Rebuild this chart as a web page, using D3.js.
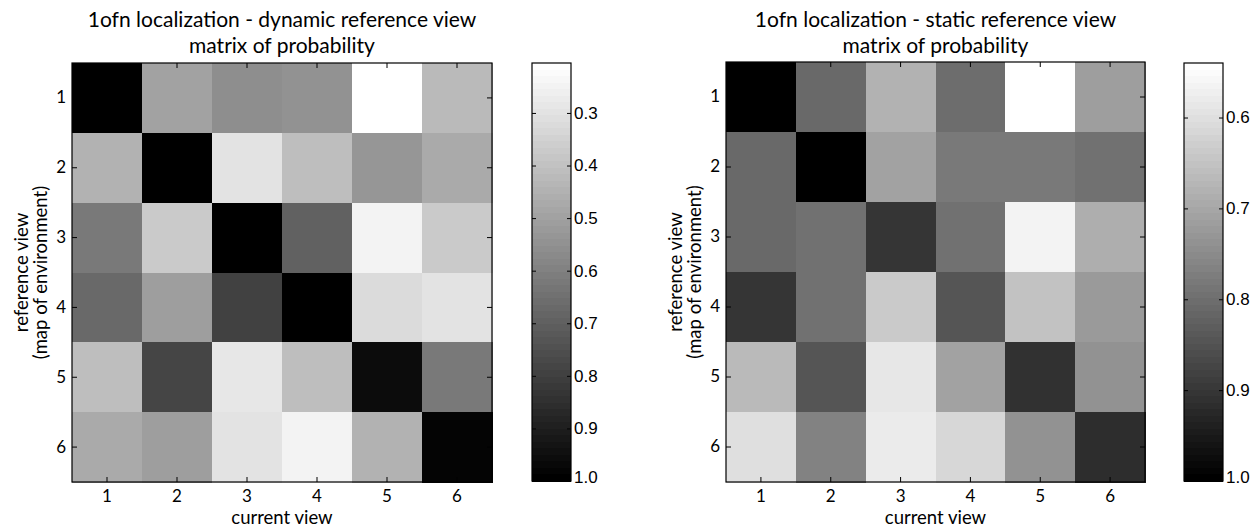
<!DOCTYPE html>
<html><head><meta charset="utf-8">
<script src="https://cdn.jsdelivr.net/npm/d3@7"></script>
<style>body{margin:0;background:#fff} svg{display:block}</style>
</head><body>
<svg id="chart" width="1256" height="529"></svg>
<script>
// ---- data ----
const rowLabels = ["1","2","3","4","5","6"];
const colLabels = ["1","2","3","4","5","6"];

const dynamicValues = [
  [1.000, 0.492, 0.554, 0.542, 0.205, 0.417],
  [0.442, 1.000, 0.302, 0.411, 0.529, 0.473],
  [0.626, 0.370, 1.000, 0.701, 0.252, 0.370],
  [0.669, 0.504, 0.800, 1.000, 0.323, 0.292],
  [0.404, 0.788, 0.283, 0.414, 0.959, 0.617],
  [0.467, 0.511, 0.302, 0.252, 0.448, 0.984]
];
const staticValues = [
  [1.000, 0.811, 0.679, 0.803, 0.540, 0.717],
  [0.811, 1.000, 0.711, 0.780, 0.780, 0.794],
  [0.812, 0.794, 0.904, 0.794, 0.563, 0.688],
  [0.904, 0.794, 0.634, 0.847, 0.654, 0.726],
  [0.663, 0.847, 0.587, 0.711, 0.910, 0.740],
  [0.603, 0.769, 0.578, 0.616, 0.740, 0.915]
];
const dynamicRange = [0.205, 1.0];
const staticRange = [0.54, 1.0];
const dynamicTicks = [0.3, 0.4, 0.5, 0.6, 0.7, 0.8, 0.9, 1.0];
const staticTicks = [0.6, 0.7, 0.8, 0.9, 1.0];
const dynamicTitle = ["1ofn localization - dynamic reference view", "matrix of probability"];
const staticTitle = ["1ofn localization - static reference view", "matrix of probability"];
const xLabel = "current view";
const yLabel = ["reference view", "(map of environment)"];

// ---- drawing ----
const svg = d3.select("#chart");
const NLEV = 64;
const grays = d3.range(NLEV).map(i => {
  const g = Math.round(255 * (NLEV - 1 - i) / (NLEV - 1));
  return d3.rgb(g, g, g).formatHex();
});
const titleFont = "Lato, 'Open Sans', sans-serif";
const numFont = "'Liberation Sans', Arial, sans-serif";

function panel(cfg) {
  const g = svg.append("g");
  const x = d3.scaleBand().domain(colLabels).range([cfg.hx0, cfg.hx1]).padding(0);
  const y = d3.scaleBand().domain(rowLabels).range([cfg.hy0, cfg.hy1]).padding(0);
  const color = d3.scaleQuantize().domain(cfg.range).range(grays);

  const cells = [];
  cfg.values.forEach((row, r) => row.forEach((v, c) => cells.push({r: rowLabels[r], c: colLabels[c], v})));
  g.append("g").selectAll("rect").data(cells).join("rect")
    .attr("x", d => x(d.c)).attr("y", d => y(d.r))
    .attr("width", x.bandwidth() + 0.5).attr("height", y.bandwidth() + 0.5)
    .attr("fill", d => color(d.v)).attr("shape-rendering", "crispEdges");

  const tick = 5;
  const axB = g.append("g").attr("transform", `translate(0,${cfg.hy1})`)
    .call(d3.axisBottom(x).tickSizeInner(-tick).tickSizeOuter(0).tickPadding(8));
  const axT = g.append("g").attr("transform", `translate(0,${cfg.hy0})`)
    .call(d3.axisTop(x).tickSizeInner(-tick).tickSizeOuter(0).tickFormat(""));
  const axL = g.append("g").attr("transform", `translate(${cfg.hx0},0)`)
    .call(d3.axisLeft(y).tickSizeInner(-tick).tickSizeOuter(0).tickPadding(6));
  const axR = g.append("g").attr("transform", `translate(${cfg.hx1},0)`)
    .call(d3.axisRight(y).tickSizeInner(-tick).tickSizeOuter(0).tickFormat(""));
  [axB, axT, axL, axR].forEach(a => {
    a.select(".domain").remove();
    a.selectAll("line").attr("stroke", "#000");
    a.selectAll("text").attr("font-family", titleFont).attr("font-size", 17).attr("fill", "#000");
  });
  g.append("rect").attr("x", cfg.hx0).attr("y", cfg.hy0)
    .attr("width", cfg.hx1 - cfg.hx0).attr("height", cfg.hy1 - cfg.hy0)
    .attr("fill", "none").attr("stroke", "#000").attr("stroke-width", 1.2);

  // titles
  const cx = (cfg.hx0 + cfg.hx1) / 2;
  g.append("text").attr("x", cx).attr("y", 27).attr("text-anchor", "middle")
    .attr("font-family", titleFont).attr("font-size", 21).attr("fill", "#000").text(cfg.title[0]);
  g.append("text").attr("x", cx).attr("y", 53).attr("text-anchor", "middle")
    .attr("font-family", titleFont).attr("font-size", 21).attr("fill", "#000").text(cfg.title[1]);

  // x label
  g.append("text").attr("x", cx).attr("y", 524).attr("text-anchor", "middle")
    .attr("font-family", titleFont).attr("font-size", 18.5).attr("fill", "#000").text(xLabel);
  // y label
  const cy = (cfg.hy0 + cfg.hy1) / 2;
  yLabel.forEach((t, i) => {
    g.append("text").attr("transform", `translate(${cfg.ylx + i * 19},${cy}) rotate(-90)`)
      .attr("text-anchor", "middle").attr("dy", "0.35em")
      .attr("font-family", titleFont).attr("font-size", 18.5).attr("fill", "#000").text(t);
  });

  // colorbar
  const cb = d3.scaleLinear().domain(cfg.range).range([cfg.cy0, cfg.cy1]);
  const step = (cfg.range[1] - cfg.range[0]) / NLEV;
  const bins = d3.range(NLEV).map(i => ({a: cfg.range[0] + i * step, b: cfg.range[0] + (i + 1) * step, c: grays[i]}));
  g.append("g").selectAll("rect").data(bins).join("rect")
    .attr("x", cfg.cx0).attr("width", cfg.cx1 - cfg.cx0)
    .attr("y", d => cb(d.a)).attr("height", d => cb(d.b) - cb(d.a) + 0.6)
    .attr("fill", d => d.c).attr("shape-rendering", "crispEdges");
  const cbR = g.append("g").attr("transform", `translate(${cfg.cx1},0)`)
    .call(d3.axisRight(cb).tickValues(cfg.ticks).tickFormat(d3.format(".1f"))
      .tickSizeInner(-4).tickSizeOuter(0).tickPadding(3));
  const cbL = g.append("g").attr("transform", `translate(${cfg.cx0},0)`)
    .call(d3.axisLeft(cb).tickValues(cfg.ticks).tickFormat("").tickSizeInner(-4).tickSizeOuter(0));
  [cbR, cbL].forEach(a => {
    a.select(".domain").remove();
    a.selectAll("line").attr("stroke", "#000");
    a.selectAll("text").attr("font-family", numFont).attr("font-size", 17).attr("fill", "#000");
  });
  cbR.selectAll(".tick").filter(d => d === cfg.range[1]).select("text").attr("dy", "0.1em");
  g.append("rect").attr("x", cfg.cx0).attr("y", cfg.cy0)
    .attr("width", cfg.cx1 - cfg.cx0).attr("height", cfg.cy1 - cfg.cy0)
    .attr("fill", "none").attr("stroke", "#000").attr("stroke-width", 1.2);
}

panel({values: dynamicValues, range: dynamicRange, ticks: dynamicTicks, title: dynamicTitle,
  hx0: 72, hx1: 492, hy0: 63, hy1: 482, cx0: 532, cx1: 571, cy0: 63, cy1: 481, ylx: 22});
panel({values: staticValues, range: staticRange, ticks: staticTicks, title: staticTitle,
  hx0: 726, hx1: 1145, hy0: 62, hy1: 482, cx0: 1184, cx1: 1223, cy0: 63, cy1: 481, ylx: 676});
</script>
</body></html>
